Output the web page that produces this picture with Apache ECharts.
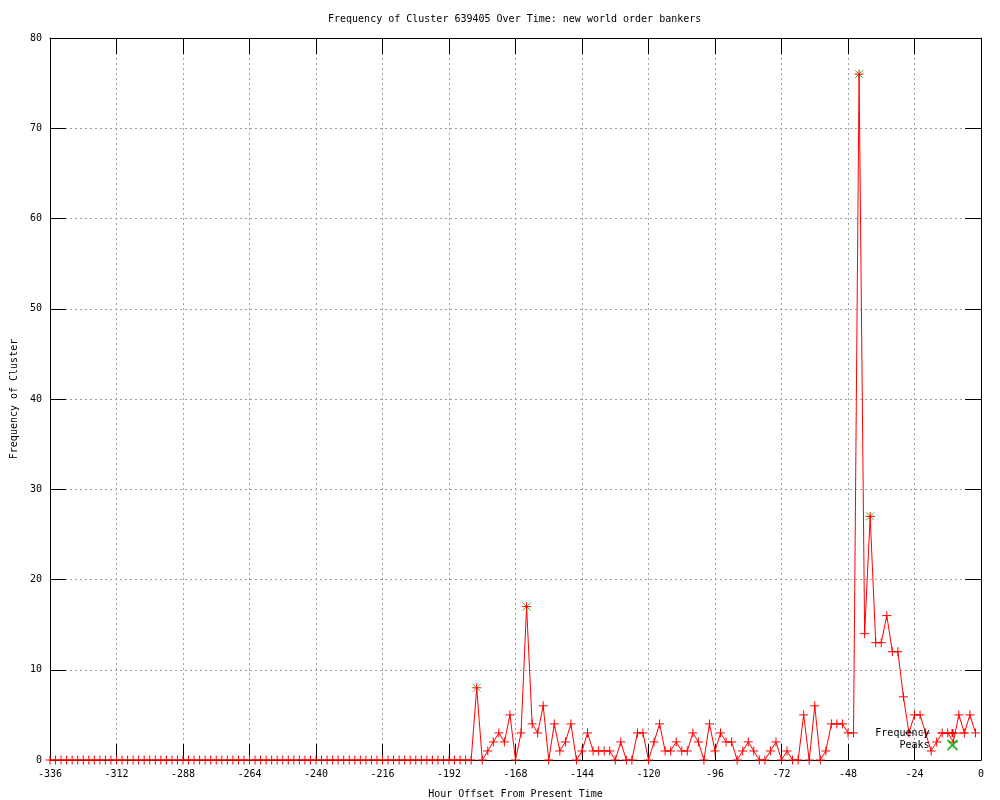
<!DOCTYPE html>
<html>
<head>
<meta charset="utf-8">
<title>Frequency of Cluster 639405</title>
<script src="https://cdn.jsdelivr.net/npm/echarts@6/dist/echarts.min.js"></script>
<style>
  html, body { margin: 0; padding: 0; background: #fff; }
  #chart { width: 1000px; height: 800px; }
</style>
</head>
<body>
<div id="chart"></div>
<script>
// frequency every 2 hours, from -336 up to -2
const hourStart = -336;
const hourStep = 2;
const frequency = [
  0, 0, 0, 0, 0, 0, 0, 0, 0, 0, 0, 0, 0, 0, 0, 0, 0, 0, 0, 0,
  0, 0, 0, 0, 0, 0, 0, 0, 0, 0, 0, 0, 0, 0, 0, 0, 0, 0, 0, 0,
  0, 0, 0, 0, 0, 0, 0, 0, 0, 0, 0, 0, 0, 0, 0, 0, 0, 0, 0, 0,
  0, 0, 0, 0, 0, 0, 0, 0, 0, 0, 0, 0, 0, 0, 0, 0, 0,
  // -182 ..
  8, 0, 1, 2, 3, 2, 5, 0, 3, 17,
  4, 3, 6, 0, 4, 1, 2, 4, 0, 1,
  3, 1, 1, 1, 1, 0, 2, 0, 0, 3,
  3, 0, 2, 4, 1, 1, 2, 1, 1, 3,
  2, 0, 4, 1, 3, 2, 2, 0, 1, 2,
  1, 0, 0, 1, 2, 0, 1, 0, 0, 5,
  0, 6, 0, 1, 4, 4, 4, 3, 3, 76,
  14, 27, 13, 13, 16, 12, 12, 7, 3, 5,
  5, 3, 1, 2, 3, 3, 2, 5, 3, 5,
  3
];
const peakHours = [-182, -164, -44, -40];
const peakValues = [8, 17, 76, 27];
const xTicks = [-336, -312, -288, -264, -240, -216, -192, -168, -144, -120, -96, -72, -48, -24, 0];

const freqData = frequency.map((v, i) => [hourStart + i * hourStep, v]);
const peakData = peakHours.map((h, i) => [h, peakValues[i]]);

const font = "DejaVu Sans Mono";
const plusSymbol = "path://M0,5L10,5M5,0L5,10";
const crossSymbol = "path://M0,0L10,10M10,0L0,10";

const chart = echarts.init(document.getElementById("chart"));

const tickStyle = { show: true, inside: true, length: 16, lineStyle: { color: "#000", width: 1 } };
const gridLine = { show: true, lineStyle: { color: "#a0a0a0", type: [2, 3], width: 1 } };

chart.setOption({
  animation: false,
  backgroundColor: "#fff",
  title: {
    text: "Frequency of Cluster 639405 Over Time: new world order bankers",
    left: 323,
    top: 9,
    textStyle: { fontFamily: font, fontSize: 10, fontWeight: "normal", color: "#000" },
  },
  grid: { left: 50, right: 19, top: 38, bottom: 40, outerBoundsMode: "none", containLabel: false },
  legend: {
    orient: "vertical",
    right: 27,
    top: 723,
    align: "right",
    itemWidth: 30,
    itemHeight: 10,
    itemGap: 1,
    lineStyle: { width: 1 },
    textStyle: { fontFamily: font, fontSize: 10, color: "#000", padding: [0, 3, 0, 0] },
    data: ["Frequency", "Peaks"],
  },
  xAxis: [
    {
      type: "value",
      min: -336,
      max: 0,
      interval: 24,
      position: "bottom",
      name: "Hour Offset From Present Time",
      nameLocation: "middle",
      nameGap: 29,
      nameTextStyle: { fontFamily: font, fontSize: 10, color: "#000" },
      axisLine: { onZero: false, lineStyle: { color: "#000", width: 1 } },
      axisTick: tickStyle,
      axisLabel: { fontFamily: font, fontSize: 10, color: "#000", margin: 9,
        formatter: (v) => (xTicks.includes(v) ? String(v) : "") },
      splitLine: gridLine,
    },
    {
      type: "value",
      min: -336,
      max: 0,
      interval: 24,
      position: "top",
      axisLine: { onZero: false, lineStyle: { color: "#000", width: 1 } },
      axisTick: tickStyle,
      axisLabel: { show: false },
      splitLine: { show: false },
    },
  ],
  yAxis: [
    {
      type: "value",
      min: 0,
      max: 80,
      interval: 10,
      position: "left",
      name: "Frequency of Cluster",
      nameLocation: "middle",
      nameGap: 31,
      nameTextStyle: { fontFamily: font, fontSize: 10, color: "#000" },
      axisLine: { show: true, onZero: false, lineStyle: { color: "#000", width: 1 } },
      axisTick: tickStyle,
      axisLabel: { fontFamily: font, fontSize: 10, color: "#000", margin: 8 },
      splitLine: gridLine,
    },
    {
      type: "value",
      min: 0,
      max: 80,
      interval: 10,
      position: "right",
      axisLine: { show: true, onZero: false, lineStyle: { color: "#000", width: 1 } },
      axisTick: tickStyle,
      axisLabel: { show: false },
      splitLine: { show: false },
    },
  ],
  series: [
    {
      name: "Peaks",
      type: "scatter",
      data: peakData,
      symbol: crossSymbol,
      symbolSize: 8,
      itemStyle: { color: "#00b000", borderColor: "#00b000", borderWidth: 1 },
      z: 2,
    },
    {
      name: "Frequency",
      type: "line",
      data: freqData,
      symbol: plusSymbol,
      symbolSize: 9,
      showAllSymbol: true,
      lineStyle: { color: "#ff0000", width: 1 },
      itemStyle: { color: "#ff0000", borderColor: "#ff0000", borderWidth: 1 },
      z: 3,
    },
  ],
});
</script>
</body>
</html>
